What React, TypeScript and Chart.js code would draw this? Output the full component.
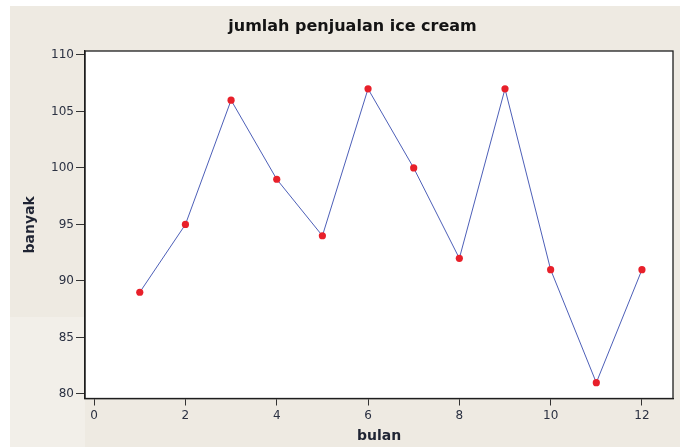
import React, { useEffect, useRef } from "react";
import { Chart, registerables } from "chart.js";

Chart.register(...registerables);

const months: number[] = [1, 2, 3, 4, 5, 6, 7, 8, 9, 10, 11, 12];
const sales: number[] = [89, 95, 106, 99, 94, 107, 100, 92, 107, 91, 81, 91];
const xTickValues: number[] = [0, 2, 4, 6, 8, 10, 12];
const yTickValues: number[] = [80, 85, 90, 95, 100, 105, 110];
const chartTitle = "jumlah penjualan ice cream";
const xTitle = "bulan";
const yTitle = "banyak";

const framePlugin = {
  id: "frame",
  beforeDraw(chart: any) {
    const { ctx, chartArea } = chart;
    ctx.save();
    ctx.fillStyle = "#ffffff";
    ctx.fillRect(chartArea.left, chartArea.top, chartArea.right - chartArea.left, chartArea.bottom - chartArea.top);
    ctx.restore();
  },
  afterDraw(chart: any) {
    const { ctx, chartArea } = chart;
    ctx.save();
    ctx.strokeStyle = "#1e1e1e";
    ctx.lineWidth = 1.3;
    ctx.strokeRect(chartArea.left, chartArea.top, chartArea.right - chartArea.left, chartArea.bottom - chartArea.top);
    ctx.fillStyle = "#141414";
    ctx.font = "bold 16px 'DejaVu Sans', sans-serif";
    ctx.textAlign = "center";
    ctx.textBaseline = "middle";
    ctx.fillText(chartTitle, 352.5, 27);
    ctx.restore();
  },
};

export default function App() {
  const ref = useRef<HTMLCanvasElement | null>(null);

  useEffect(() => {
    if (!ref.current) return;
    const tickFont = { family: "'DejaVu Sans', sans-serif", size: 12 };
    const titleFont = { family: "'DejaVu Sans', sans-serif", size: 14, weight: "bold" as const };
    const chart = new Chart(ref.current, {
      type: "line",
      data: {
        datasets: [
          {
            data: months.map((m, i) => ({ x: m, y: sales[i] })),
            borderColor: "#4d5fb8",
            borderWidth: 1,
            pointBackgroundColor: "#e8202a",
            pointBorderWidth: 0,
            pointRadius: 3.6,
            tension: 0,
          },
        ],
      },
      options: {
        animation: false,
        responsive: false,
        maintainAspectRatio: false,
        layout: { padding: { left: 0, right: 12, top: 51, bottom: 0 } },
        plugins: {
          legend: { display: false },
          tooltip: { enabled: false },
          title: { display: false },
        },
        scales: {
          x: {
            type: "linear",
            min: -0.2,
            max: 12.68,
            afterBuildTicks: (s: any) => {
              s.ticks = xTickValues.map((v) => ({ value: v }));
            },
            afterFit: (s: any) => {
              s.height = 48.5;
            },
            grid: { drawOnChartArea: false, drawTicks: true, tickLength: 7, tickColor: "#333" },
            border: { display: true, color: "#1e1e1e", width: 1.3 },
            ticks: { color: "#2b3142", font: tickFont, padding: 3, maxRotation: 0 },
            title: { display: true, text: xTitle, color: "#1f2433", font: titleFont, padding: { top: 0, bottom: 2.5 } },
          },
          y: {
            type: "linear",
            min: 79.6,
            max: 110.35,
            afterBuildTicks: (s: any) => {
              s.ticks = yTickValues.map((v) => ({ value: v }));
            },
            afterFit: (s: any) => {
              s.width = 85;
            },
            grid: { drawOnChartArea: false, drawTicks: true, tickLength: 9, tickColor: "#333" },
            border: { display: true, color: "#1e1e1e", width: 1.3 },
            ticks: { color: "#2b3142", font: tickFont, padding: 2 },
            title: { display: true, text: yTitle, color: "#1f2433", font: titleFont, padding: { top: 21.6, bottom: 0 } },
          },
        },
      },
      plugins: [framePlugin],
    });
    return () => chart.destroy();
  }, []);

  return (
    <div style={{ position: "fixed", left: 0, top: 0, width: 685, height: 447, background: "#ffffff", overflow: "hidden" }}>
      <div style={{ position: "absolute", left: 10, top: 6, width: 670, height: 441, background: "#eeeae2" }} />
      <div style={{ position: "absolute", left: 10, top: 317, width: 75, height: 130, background: "#f2efe9" }} />
      <canvas ref={ref} width={685} height={447} style={{ position: "absolute", left: 0, top: 0, width: 685, height: 447 }} />
    </div>
  );
}
